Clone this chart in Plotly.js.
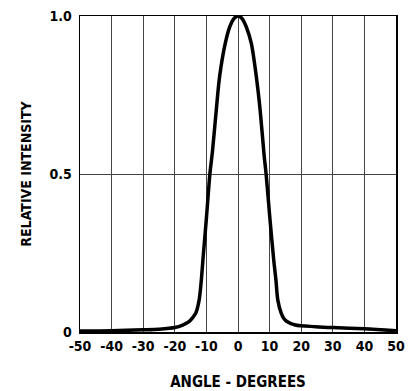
<!DOCTYPE html>
<html>
<head>
<meta charset="utf-8">
<script src="https://cdn.plot.ly/plotly-3.0.1.min.js"></script>
<style>html,body{margin:0;padding:0;background:#fff;}#chart{width:415px;height:391px;}</style>
</head>
<body>
<div id="chart"></div>
<script>
const angle = [-50, -40, -30, -25, -20, -17.5, -15.5, -14.4, -13.4, -12.3, -11.6, -11.1, -10, -8.9, -8.1, -6.9, -5.8, -4.0, -2.6, -1.2, 0,
               1.2, 2.6, 4.2, 5.8, 7.0, 8.3, 8.9, 10, 11.3, 12.0, 12.6, 13.7, 14.5, 15.5, 18.1, 24.5, 30, 40, 50];
const intensity = [0.003, 0.004, 0.007, 0.009, 0.014, 0.022, 0.033, 0.045, 0.059, 0.101, 0.165, 0.228, 0.36, 0.50, 0.57, 0.70, 0.81, 0.915, 0.966, 0.993, 1.0,
                   0.993, 0.966, 0.914, 0.808, 0.703, 0.555, 0.50, 0.37, 0.228, 0.165, 0.101, 0.059, 0.043, 0.033, 0.022, 0.017, 0.014, 0.010, 0.004];
const xTicks = [-50, -40, -30, -20, -10, 0, 10, 20, 30, 40, 50];
const yTicks = [0, 0.5, 1.0];
const yTickText = ['0', '0.5', '1.0'];
const xTitle = 'ANGLE - DEGREES';
const yTitle = 'RELATIVE INTENSITY';

const FONT = '"Liberation Sans Narrow", "DejaVu Sans Condensed", "Arial Narrow", sans-serif';

Plotly.newPlot('chart', [{
  x: angle, y: intensity, type: 'scatter', mode: 'lines',
  line: {color: '#000', width: 3.5, shape: 'spline', smoothing: 0.8},
  hoverinfo: 'none'
}], {
  width: 415, height: 391,
  margin: {l: 80, r: 19, t: 16, b: 59},
  paper_bgcolor: '#fff', plot_bgcolor: '#fff',
  showlegend: false,
  font: {family: FONT, color: '#000', size: 14, weight: 'bold'},
  xaxis: {
    range: [-50, 50], tickvals: xTicks, ticktext: xTicks.map(String),
    showgrid: true, gridcolor: '#444', gridwidth: 1,
    zeroline: false, showline: true, linecolor: '#000', linewidth: 1.5, mirror: true,
    ticks: '', ticklabelstandoff: 1,
    tickfont: {family: FONT, size: 14, weight: 'bold', color: '#000'},
    title: {text: xTitle, standoff: 24, font: {family: FONT, size: 15, weight: 'bold', color: '#000'}},
    automargin: false, fixedrange: true
  },
  yaxis: {
    range: [0, 1.0], tickvals: yTicks, ticktext: yTickText,
    showgrid: true, gridcolor: '#444', gridwidth: 1,
    zeroline: false, showline: true, linecolor: '#000', linewidth: 1.5, mirror: true,
    ticks: '', ticklabelstandoff: 4,
    tickfont: {family: FONT, size: 14, weight: 'bold', color: '#000'},
    title: {text: yTitle, standoff: 14, font: {family: FONT, size: 14, weight: 'bold', color: '#000'}},
    automargin: false, fixedrange: true
  }
}, {displayModeBar: false, staticPlot: true});
</script>
</body>
</html>
